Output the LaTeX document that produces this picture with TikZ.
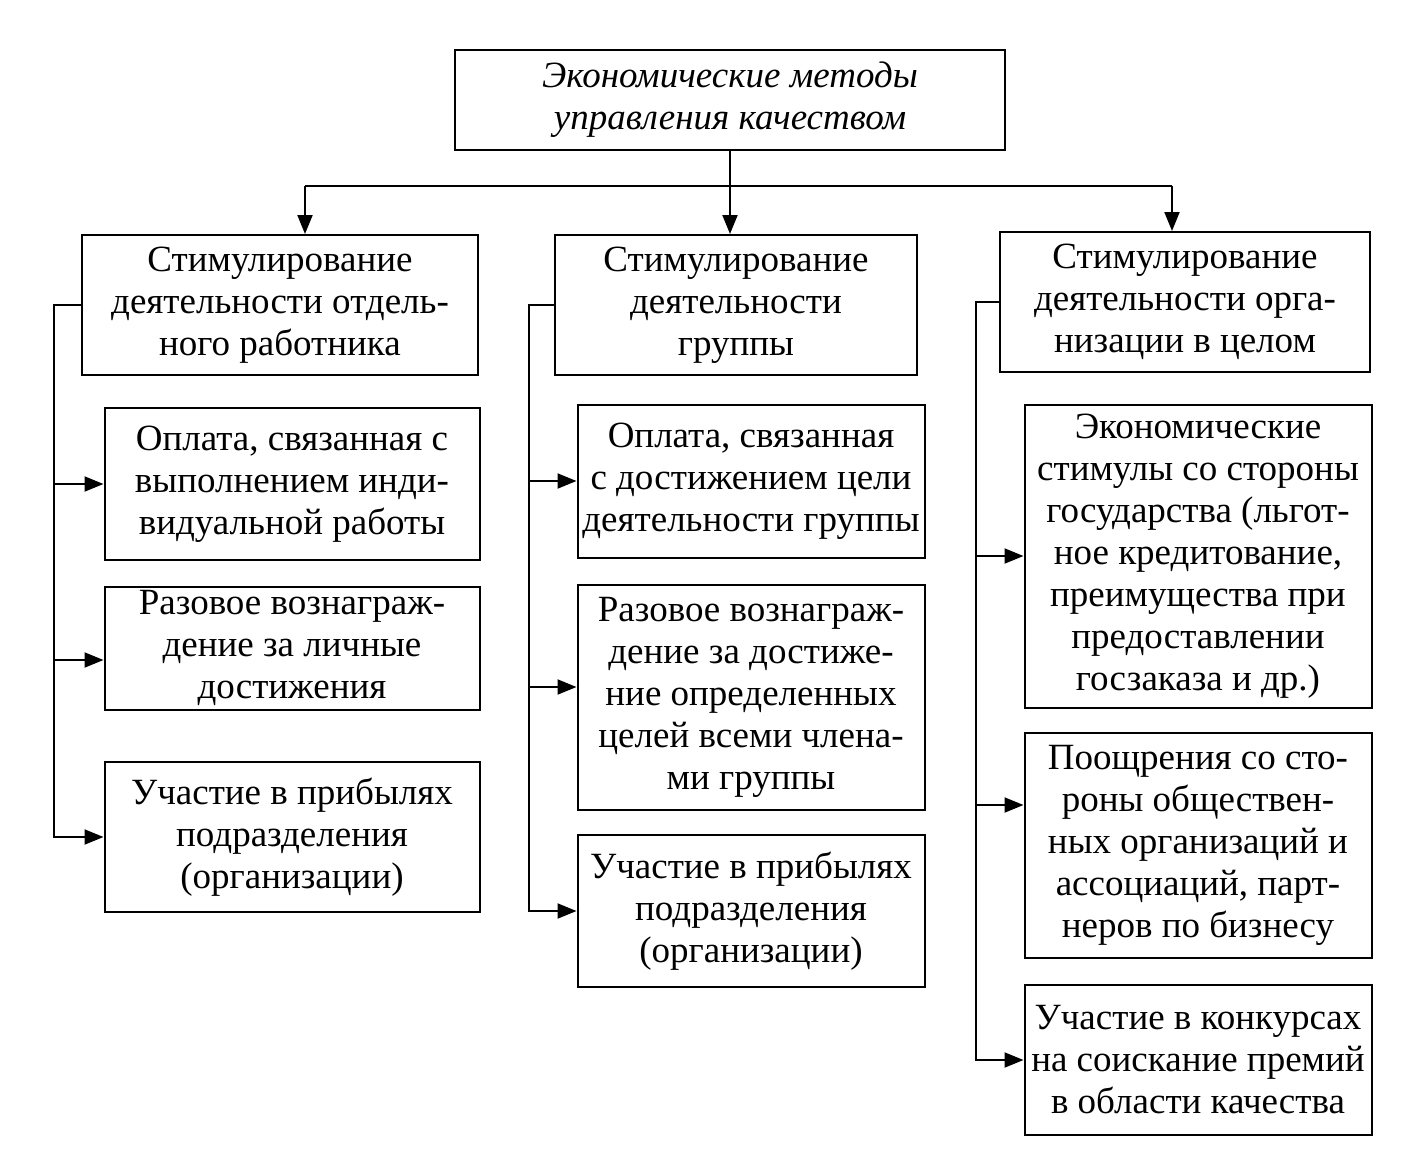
\documentclass[tikz,border=0pt]{standalone}
\usepackage{fontspec}
\setmainfont{Liberation Serif}
\usetikzlibrary{arrows.meta}

\begin{document}
\begin{tikzpicture}[%
    x=1pt,y=-1pt,
    line width=2pt,
    arr/.style={-{Triangle[length=19pt,width=15pt]}},
    box/.style={
      rectangle,
      draw,
      line width=2pt,
      align=center,
      inner sep=2pt,
      font=\fontsize{37}{42}\selectfont
    },
    headbox/.style={
      box,
      font=\fontsize{37}{42}\selectfont\itshape
    }
  ]
    \useasboundingbox (0,0) rectangle (1425,1160);

    % top
    \node[headbox, minimum width=550pt, minimum height=100pt] (top) at (730,100)
      {Экономические методы\\управления качеством};

    % second level
    \node[box, minimum width=396pt, minimum height=140pt] (L0) at (280,305)
      {Стимулирование\\деятельности отдель-\\ного работника};
    \node[box, minimum width=362pt, minimum height=140pt] (M0) at (736,305)
      {Стимулирование\\деятельности\\группы};
    \node[box, minimum width=370pt, minimum height=140pt] (R0) at (1185,302)
      {Стимулирование\\деятельности орга-\\низации в целом};

    % left column
    \node[box, minimum width=375pt, minimum height=152pt] (L1) at (292,484)
      {Оплата, связанная с\\выполнением инди-\\видуальной работы};
    \node[box, minimum width=375pt, minimum height=123pt] (L2) at (292,648)
      {Разовое вознаграж-\\дение за личные\\достижения};
    \node[box, minimum width=375pt, minimum height=150pt] (L3) at (292,837)
      {Участие в прибылях\\подразделения\\(организации)};

    % middle column
    \node[box, minimum width=347pt, minimum height=153pt] (M1) at (751,481)
      {Оплата, связанная\\с достижением цели\\деятельности группы};
    \node[box, minimum width=347pt, minimum height=225pt] (M2) at (751,697)
      {Разовое вознаграж-\\дение за достиже-\\ние определенных\\целей всеми члена-\\ми группы};
    \node[box, minimum width=347pt, minimum height=152pt] (M3) at (751,911)
      {Участие в прибылях\\подразделения\\(организации)};

    % right column
    \node[box, minimum width=347pt, minimum height=303pt] (R1) at (1198,556)
      {Экономические\\стимулы со стороны\\государства (льгот-\\ное кредитование,\\преимущества при\\предоставлении\\госзаказа и др.)};
    \node[box, minimum width=347pt, minimum height=225pt] (R2) at (1198,845)
      {Поощрения со сто-\\роны обществен-\\ных организаций и\\ассоциаций, парт-\\неров по бизнесу};
    \node[box, minimum width=347pt, minimum height=150pt] (R3) at (1198,1060)
      {Участие в конкурсах\\на соискание премий\\в области качества};

    % connectors from top
    \draw (top.south) -- ++(0,35) coordinate (hub);
    \draw ([xshift=25pt]L0.north |- hub) -- ([xshift=-13pt]R0.north |- hub);
    \draw[arr] ([xshift=25pt]L0.north |- hub) -- ([xshift=25pt]L0.north);
    \draw[arr] (hub) -- (hub |- M0.north);
    \draw[arr] ([xshift=-13pt]R0.north |- hub) -- ([xshift=-13pt]R0.north);

    % left trunk
    \draw[arr] (L0.west) -- ++(-27,0) coordinate (lt) |- (L3.west);
    \draw[arr] (lt |- L1.west) -- (L1.west);
    \draw[arr] ([yshift=-12pt]lt |- L2.west) -- ([yshift=-12pt]L2.west);

    % middle trunk
    \draw[arr] (M0.west) -- ++(-25,0) coordinate (mt) |- (M3.west);
    \draw[arr] (mt |- M1.west) -- (M1.west);
    \draw[arr] ([yshift=10pt]mt |- M2.west) -- ([yshift=10pt]M2.west);

    % right trunk
    \draw[arr] (R0.west) -- ++(-23,0) coordinate (rt) |- (R3.west);
    \draw[arr] (rt |- R1.west) -- (R1.west);
    \draw[arr] ([yshift=40pt]rt |- R2.west) -- ([yshift=40pt]R2.west);

  \end{tikzpicture}
\end{document}
